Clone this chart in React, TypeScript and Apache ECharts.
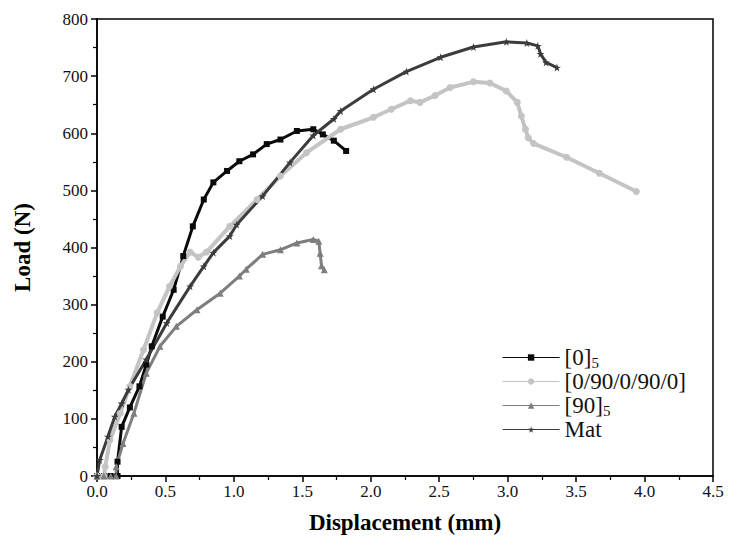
import React, { useEffect, useRef } from "react";
import * as echarts from "echarts";

const xTicks = [0, 0.5, 1.0, 1.5, 2.0, 2.5, 3.0, 3.5, 4.0, 4.5];
const yTicks = [0, 100, 200, 300, 400, 500, 600, 700, 800];

const seriesNames = ["[0]5", "[0/90/0/90/0]", "[90]5", "Mat"];

const s0: number[][] = [
  [0, 0], [0.05, 0], [0.1, 0], [0.15, 0], [0.15, 25], [0.18, 86], [0.24, 120], [0.31, 157],
  [0.36, 195], [0.4, 227], [0.48, 279], [0.56, 326], [0.63, 385], [0.7, 437], [0.78, 484],
  [0.85, 514], [0.95, 534], [1.04, 551], [1.14, 563], [1.24, 581], [1.34, 589], [1.46, 604],
  [1.58, 607], [1.65, 598], [1.73, 587], [1.82, 569],
];

const s1: number[][] = [
  [0, 0], [0.05, 0], [0.06, 16], [0.095, 63], [0.17, 110], [0.24, 157], [0.34, 221], [0.44, 286],
  [0.53, 332], [0.61, 367], [0.68, 392], [0.74, 383], [0.8, 392], [0.97, 437], [1.17, 484],
  [1.34, 525], [1.53, 566], [1.78, 607], [2.02, 628], [2.15, 642], [2.29, 657], [2.36, 654],
  [2.47, 666], [2.58, 680], [2.75, 690], [2.87, 688], [2.99, 674], [3.07, 654], [3.1, 630],
  [3.13, 607], [3.15, 592], [3.19, 582], [3.43, 558], [3.67, 530], [3.94, 498],
];

const s2: number[][] = [
  [0, 0], [0.05, 0], [0.1, 0], [0.14, 0], [0.14, 16], [0.19, 57], [0.27, 110], [0.36, 180],
  [0.46, 227], [0.58, 262], [0.73, 291], [0.9, 320], [1.04, 350], [1.09, 362], [1.21, 388],
  [1.34, 396], [1.46, 408], [1.58, 414], [1.62, 411], [1.63, 390], [1.64, 368], [1.66, 361],
];

const s3: number[][] = [
  [0, 0], [0.02, 28], [0.08, 69], [0.13, 104], [0.18, 127], [0.23, 151], [0.36, 204],
  [0.51, 268], [0.68, 332], [0.78, 367], [0.85, 391], [0.97, 420], [1.02, 440], [1.21, 490],
  [1.41, 549], [1.58, 596], [1.73, 625], [1.78, 639], [2.02, 677], [2.26, 708], [2.51, 733],
  [2.75, 751], [2.99, 760], [3.14, 758], [3.22, 753], [3.24, 739], [3.28, 724], [3.36, 715],
];

const STAR =
  "path://M50,0 L61,35 L98,35 L68,57 L79,91 L50,70 L21,91 L32,57 L2,35 L39,35 Z";

const serif = "'Liberation Serif', 'Times New Roman', serif";

export default function App() {
  const ref = useRef<HTMLDivElement>(null);
  useEffect(() => {
    document.body.style.margin = "0";
    if (!ref.current) return;
    const chart = echarts.init(ref.current, undefined, { renderer: "svg" });
    const mk = (name: string, data: number[][], color: string, symbol: string, size: number, lw: number) => ({
      name,
      type: "line",
      data,
      symbol,
      symbolSize: size,
      showAllSymbol: true,
      itemStyle: { color },
      lineStyle: { color, width: lw },
      z: 3,
    });
    chart.setOption({
      animation: false,
      backgroundColor: "#ffffff",
      textStyle: { fontFamily: serif },
      grid: {
        left: 97, right: 16, top: 19, bottom: 69,
        show: true, borderColor: "#000", borderWidth: 1.5, backgroundColor: "transparent",
      },
      legend: {
        orient: "vertical",
        left: 497,
        top: 340,
        itemWidth: 57,
        itemHeight: 8,
        itemGap: 0,
        lineStyle: { width: 1.2 },
        data: seriesNames,
        textStyle: {
          fontFamily: serif,
          fontSize: 23,
          lineHeight: 22,
          color: "#111",
          rich: {
            a: { fontFamily: serif, fontSize: 23, lineHeight: 22, color: "#111" },
            s: { fontFamily: serif, fontSize: 15, lineHeight: 12, color: "#111", padding: [10, 0, 0, 0] },
          },
        },
        formatter: (n: string) => {
          if (n.endsWith("]5")) return "{a|" + n.slice(0, -1) + "}{s|5}";
          return "{a|" + n + "}";
        },
      },
      xAxis: {
        type: "value",
        min: xTicks[0],
        max: xTicks[xTicks.length - 1],
        interval: 0.5,
        name: "Displacement (mm)",
        nameLocation: "middle",
        nameGap: 35,
        nameTextStyle: { fontFamily: serif, fontSize: 23, fontWeight: "bold", color: "#000" },
        axisLine: { show: true, lineStyle: { color: "#000", width: 1.5 } },
        axisTick: { show: true, length: 6, lineStyle: { color: "#000", width: 1.5 } },
        minorTick: { show: true, splitNumber: 2, length: 4, lineStyle: { color: "#000", width: 1.2 } },
        splitLine: { show: false },
        axisLabel: {
          fontFamily: serif, fontSize: 17, color: "#111", margin: 7,
          formatter: (v: number) => v.toFixed(1),
        },
      },
      yAxis: {
        type: "value",
        min: yTicks[0],
        max: yTicks[yTicks.length - 1],
        interval: 100,
        name: "Load (N)",
        nameLocation: "middle",
        nameGap: 63,
        nameTextStyle: { fontFamily: serif, fontSize: 23, fontWeight: "bold", color: "#000" },
        axisLine: { show: true, lineStyle: { color: "#000", width: 1.5 } },
        axisTick: { show: true, length: 6, lineStyle: { color: "#000", width: 1.5 } },
        minorTick: { show: true, splitNumber: 2, length: 4, lineStyle: { color: "#000", width: 1.2 } },
        splitLine: { show: false },
        axisLabel: { fontFamily: serif, fontSize: 17, color: "#111", margin: 9 },
      },
      series: [
        mk(seriesNames[0], s0, "#0a0a0a", "rect", 6, 3),
        mk(seriesNames[1], s1, "#c4c4c4", "circle", 7, 4),
        mk(seriesNames[2], s2, "#7e7e7e", "triangle", 7, 3),
        mk(seriesNames[3], s3, "#3c3c3c", STAR, 8, 3),
      ],
    });
    return () => chart.dispose();
  }, []);
  return <div ref={ref} style={{ width: 729, height: 545 }} />;
}
